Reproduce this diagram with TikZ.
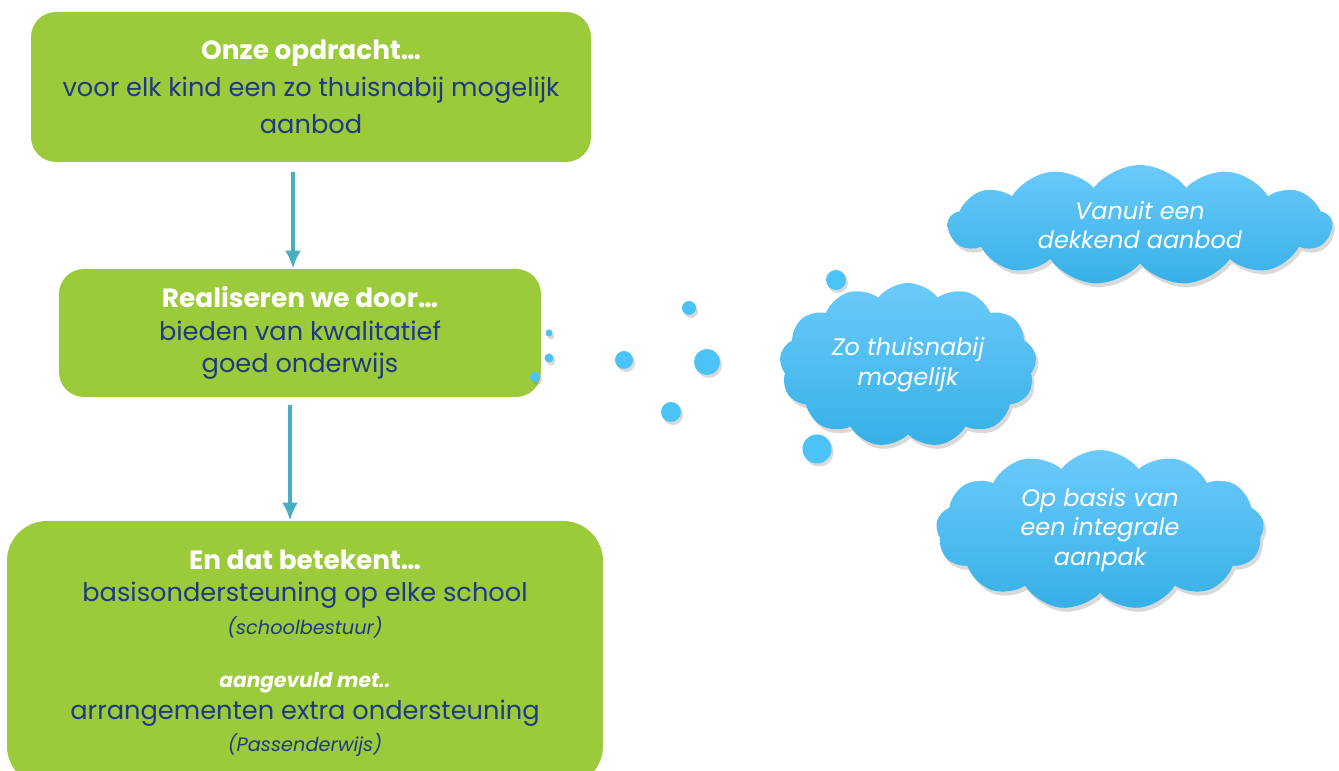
\documentclass[tikz,border=0pt]{standalone}
\usepackage{fontspec}
\setmainfont{Poppins}
\usepackage{xcolor}
\usetikzlibrary{arrows.meta, positioning, shapes.symbols, shadows}
\definecolor{blokgroen}{HTML}{9BCB3B}
\definecolor{tekstblauw}{HTML}{1F3A82}
\definecolor{pijlblauw}{HTML}{4BACC6}
\definecolor{wolklicht}{HTML}{6BCAFB}
\definecolor{wolkdonker}{HTML}{36B0E6}
\definecolor{stipblauw}{HTML}{4CC3F7}
\newcommand{\kop}[1]{\textcolor{white}{\fontsize{15}{18}\selectfont\bfseries #1}}
\newcommand{\bron}[1]{{\fontsize{11}{14}\selectfont\itshape #1}}

\begin{document}
\begin{tikzpicture}[
  every node/.style = {font=\fontsize{14.6}{21}\selectfont},
  blok/.style = {fill=blokgroen, rounded corners=0.5cm, align=center, text=tekstblauw, inner sep=0pt},
  wolk/.style = {cloud, cloud puffs=13, cloud puff arc=105, cloud ignores aspect, draw=none,
    top color=wolklicht, bottom color=wolkdonker, align=center, text=white, inner sep=0pt,
    font=\fontsize{13.6}{17}\selectfont\itshape,
    drop shadow={opacity=0.3, shadow xshift=0.05cm, shadow yshift=-0.08cm}},
  stip/.style = {fill=stipblauw, drop shadow={opacity=0.3, shadow xshift=0.04cm, shadow yshift=-0.06cm}},
  pijl/.style = {->, line width=2.2pt, pijlblauw},
  >={Latex[length=0.36cm, width=0.32cm]}
]
  \useasboundingbox (0,0) rectangle (26.78,15.42);

  \node[blok, minimum width=11.2cm, minimum height=3cm] (opdracht) at (6.22,13.68)
    {\kop{Onze opdracht…}\\voor elk kind een zo thuisnabij mogelijk\\aanbod};
  \node[blok, minimum width=9.64cm, minimum height=2.56cm, font=\fontsize{14.6}{18.5}\selectfont] (door) at (6.0,8.76)
    {\kop{Realiseren we door…}\\bieden van kwalitatief\\goed onderwijs};
  \node[blok, rounded corners=0.8cm, minimum width=11.92cm, minimum height=5.3cm, font=\fontsize{14.6}{18.3}\selectfont] (betekent) at (6.10,2.35)
    {\kop{En dat betekent…}\\basisondersteuning op elke school\\\bron{(schoolbestuur)}\\[12pt]
     \textcolor{white}{\bfseries\itshape\fontsize{11.5}{15}\selectfont aangevuld met..}\\arrangementen extra ondersteuning\\\bron{(Passenderwijs)}};

  \draw[pijl] ([xshift=-0.36cm, yshift=-0.2cm]opdracht.south) -- ([xshift=-0.14cm]door.north);
  \draw[pijl] ([xshift=-0.2cm, yshift=-0.16cm]door.south) -- ([xshift=-0.3cm]betekent.north);

  % gedachtebelletjes
  \foreach \x/\y/\r in {10.98/8.76/0.07, 10.98/8.26/0.09, 10.70/7.88/0.10, 12.48/8.22/0.18,
                        13.78/9.26/0.14, 14.14/8.18/0.26, 13.42/7.18/0.20, 16.72/9.82/0.20, 16.34/6.44/0.29}
    \fill[stip] (\x,\y) circle (\r);

  \node[wolk, minimum width=7.68cm, minimum height=2.4cm] (dekkend) at (22.8,10.92)
    {Vanuit een\\dekkend aanbod};
  \node[wolk, minimum width=5.14cm, minimum height=3.28cm] (thuisnabij) at (18.16,8.12)
    {Zo thuisnabij\\mogelijk};
  \node[wolk, minimum width=6.56cm, minimum height=3.2cm] (integraal) at (22.0,4.82)
    {Op basis van\\een integrale\\aanpak};
\end{tikzpicture}
\end{document}
